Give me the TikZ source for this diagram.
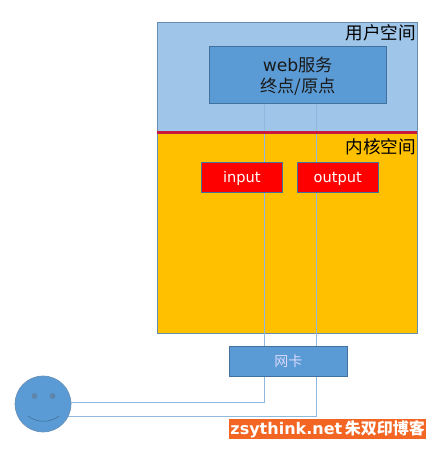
\documentclass[tikz,border=0pt]{standalone}
\usepackage{fontspec}
\setmainfont{DejaVu Sans}
\newfontfamily\cjk{Noto Sans CJK SC}
\definecolor{lineblue}{HTML}{8FB8DE}
\definecolor{midblue}{HTML}{5B9BD5}
\definecolor{edgeblue}{HTML}{41719C}
\definecolor{paleblue}{HTML}{9FC5E8}
\definecolor{gold}{HTML}{FFC000}
\definecolor{sepred}{HTML}{C8193C}
\definecolor{wm}{HTML}{F26522}
\tikzset{
 zone/.style={draw=edgeblue!80,line width=0.8pt,inner sep=0},
 boxn/.style={draw=edgeblue,fill=midblue,line width=0.6pt,inner sep=0},
 redbox/.style={draw=edgeblue,fill=red,line width=0.6pt,inner sep=0,text=white,text height=10pt,text depth=0pt,font=\fontsize{14.6}{16}\selectfont},
 link/.style={draw=lineblue,line width=0.9pt},
 zonelabel/.style={inner sep=0,anchor=north east,font=\cjk\fontsize{17.6}{20}\selectfont,text=black}
}
\begin{document}
\begin{tikzpicture}[x=1pt,y=-1pt]
\useasboundingbox (0,0) rectangle (436,449);
\fill[white] (0,0) rectangle (436,449);
\node[zone,fill=paleblue,minimum width=260pt,minimum height=110pt,anchor=north west] (user) at (157,22) {};
\node[zone,fill=gold,minimum width=260pt,minimum height=200pt,anchor=north west] (kernel) at (157,133) {};
\node[zonelabel] (ulabel) at (416,24) {用户空间};
\node[zonelabel] (klabel) at (416,138) {内核空间};
\node[boxn,minimum width=177pt,minimum height=57pt,anchor=north west] (web) at (209,46) {};
\node[inner sep=0,align=center,text=black!90,font=\fontsize{17.2}{21}\selectfont] (webtext) at ([yshift=-1.5pt]web.center) {web{\cjk 服务}\\{\cjk 终点/原点}};
\node[boxn,minimum width=118pt,minimum height=30pt,anchor=north west,text=blue!15,font=\cjk\fontsize{14}{16}\selectfont] (nic) at (229,346) {网卡};
\coordinate (sepL) at (157,132.5);
\coordinate (sepR) at (417,132.5);
\coordinate (c1) at (264,402.5);
\coordinate (c2) at (316.5,416.5);
\coordinate (f1) at (71,402.5);
\coordinate (f2) at (68,416.5);
\draw[link] (web.south -| c1) -- (nic.north -| c1);
\draw[link] (web.south -| c2) -- (nic.north -| c2);
\draw[sepred,line width=3pt] (sepL) -- (sepR);
\node[redbox,minimum width=81pt,minimum height=30pt,anchor=north west] (in) at (201,162) {input};
\node[redbox,minimum width=81pt,minimum height=30pt,anchor=north west] (out) at (297,162) {output};
\draw[link] (nic.south -| c1) -- (c1) -- (f1);
\draw[link] (nic.south -| c2) -- (c2) -- (f2);
\node[circle,draw=edgeblue!80,fill=midblue,line width=0.6pt,minimum size=56pt,inner sep=0] (face) at (43,404) {};
\node[circle,fill=edgeblue!85,minimum size=6pt,inner sep=0] (eyeL) at (34.5,396) {};
\node[circle,fill=edgeblue!85,minimum size=6pt,inner sep=0] (eyeR) at (52.5,396) {};
\coordinate (smileL) at (28,416);
\coordinate (smileR) at (59,416);
\draw[edgeblue,line width=0.6pt] (smileL) .. controls (37,423) and (50,423) .. (smileR);
\node[fill=wm,text=white,minimum width=197pt,minimum height=20pt,inner sep=0,anchor=north west] (mark) at (229,419) {\fontsize{16}{18}\selectfont\bfseries zsythink.net\,{\cjk\bfseries 朱双印博客}};
\end{tikzpicture}
\end{document}
